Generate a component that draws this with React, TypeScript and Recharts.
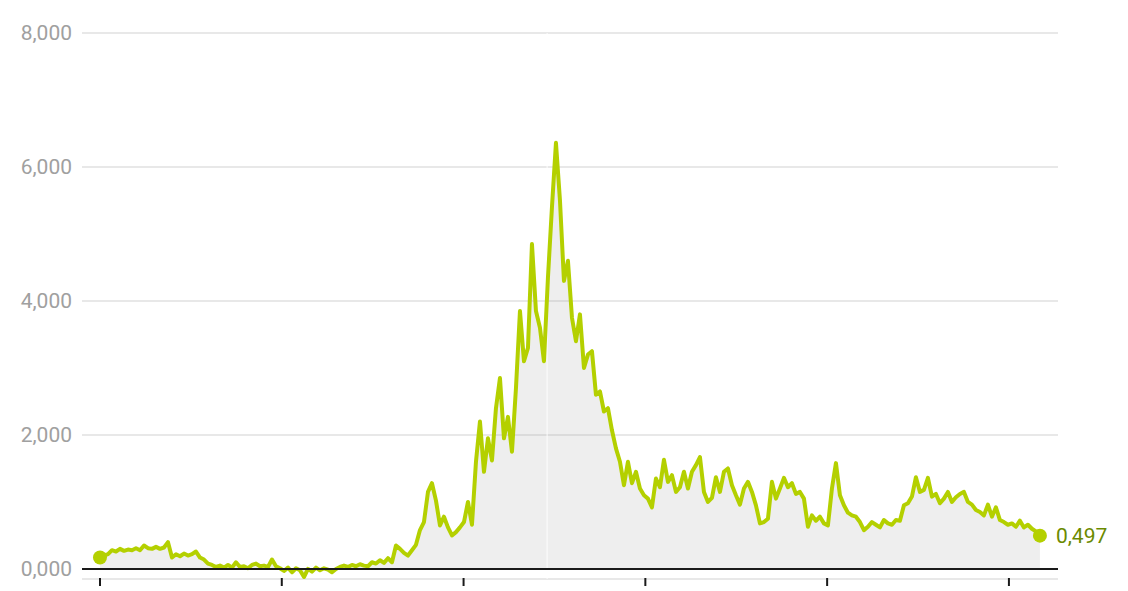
import React from 'react';
import {
    ComposedChart,
    Area,
    Line,
    XAxis,
    YAxis,
    CartesianGrid,
    ReferenceLine,
} from 'recharts';

// x positions: one reading every ~8 days, starting on the first tick
const START_YEAR = 2016;
const POINTS_PER_YEAR = 45.45;
const YEAR_TICKS = [2016, 2017, 2018, 2019, 2020, 2021];
const VALUE_TICKS = [0, 2, 4, 6, 8];
const SPLIT_YEAR = 2018.46;

const VALUES = [
    0.17, 0.2, 0.22, 0.28, 0.26, 0.3, 0.27, 0.29, 0.28, 0.31,
    0.28, 0.35, 0.31, 0.3, 0.33, 0.3, 0.32, 0.4, 0.17, 0.22,
    0.19, 0.23, 0.2, 0.22, 0.26, 0.17, 0.14, 0.08, 0.06, 0.03,
    0.05, 0.02, 0.06, 0.02, 0.1, 0.03, 0.04, 0.01, 0.06, 0.08,
    0.04, 0.05, 0.03, 0.14, 0.04, 0.01, -0.03, 0.02, -0.05, 0.01,
    -0.02, -0.12, 0.0, -0.04, 0.02, -0.02, 0.01, -0.01, -0.05, 0.0,
    0.03, 0.05, 0.03, 0.06, 0.04, 0.07, 0.05, 0.04, 0.1, 0.08,
    0.13, 0.09, 0.16, 0.1, 0.35, 0.3, 0.24, 0.2, 0.28, 0.36,
    0.58, 0.7, 1.15, 1.28, 1.02, 0.65, 0.78, 0.62, 0.5, 0.55,
    0.62, 0.7, 1.0, 0.66, 1.6, 2.2, 1.45, 1.95, 1.62, 2.4,
    2.85, 1.95, 2.27, 1.75, 2.7, 3.85, 3.1, 3.3, 4.85, 3.85,
    3.6, 3.1, 4.35, 5.4, 6.36, 5.5, 4.3, 4.6, 3.75, 3.4,
    3.8, 3.0, 3.2, 3.25, 2.6, 2.65, 2.35, 2.4, 2.07, 1.8,
    1.6, 1.25, 1.6, 1.28, 1.45, 1.2, 1.1, 1.05, 0.92, 1.35,
    1.22, 1.63, 1.3, 1.4, 1.15, 1.22, 1.45, 1.2, 1.45, 1.55,
    1.67, 1.15, 1.0, 1.06, 1.37, 1.15, 1.45, 1.5, 1.25, 1.1,
    0.96, 1.2, 1.3, 1.15, 0.95, 0.68, 0.7, 0.75, 1.3, 1.05,
    1.2, 1.36, 1.22, 1.28, 1.12, 1.15, 1.05, 0.63, 0.8, 0.72,
    0.78, 0.68, 0.65, 1.2, 1.58, 1.1, 0.95, 0.84, 0.8, 0.78,
    0.7, 0.58, 0.63, 0.7, 0.66, 0.62, 0.73, 0.68, 0.66, 0.73,
    0.72, 0.95, 0.98, 1.08, 1.37, 1.15, 1.18, 1.36, 1.08, 1.12,
    0.98, 1.05, 1.15, 1.0, 1.07, 1.12, 1.15, 1.0, 0.96, 0.88,
    0.85, 0.8, 0.96, 0.78, 0.92, 0.73, 0.7, 0.66, 0.68, 0.63,
    0.72, 0.62, 0.66, 0.6, 0.56, 0.497,
];

const data = VALUES.map((v, i) => ({ year: START_YEAR + i / POINTS_PER_YEAR, value: v }));

const LIME = '#b4d000';
const LABEL_GREEN = '#6b8a00';
const fmt = (v: number) => v.toFixed(3).replace('.', ',');

const YearTick = (props: any) => {
    const { x, y } = props;
    return <line x1={x} x2={x} y1={y - 1} y2={y + 7} stroke="#1a1a1a" strokeWidth={2} />;
};

const renderDot = (props: any) => {
    const { cx, cy, index } = props;
    if (index === 0) {
        return <circle key="dot-first" cx={cx} cy={cy} r={7} fill={LIME} />;
    }
    if (index === VALUES.length - 1) {
        return (
            <g key="dot-last">
                <circle cx={cx} cy={cy} r={7} fill={LIME} />
                <text
                    x={cx + 16}
                    y={cy}
                    dy="0.36em"
                    fill={LABEL_GREEN}
                    fontSize={21}
                    fontFamily="Roboto"
                >
                    {fmt(VALUES[index])}
                </text>
            </g>
        );
    }
    return <g key={`dot-${index}`} />;
};

export default function App() {
    return (
        <div style={{ position: 'absolute', left: 0, top: 0 }}>
            <ComposedChart
                width={1128}
                height={591}
                data={data}
                margin={{ top: 33, right: 70, bottom: 0, left: 0 }}
                style={{ fontFamily: 'Roboto' }}
            >
                <CartesianGrid vertical={false} stroke="#e8e8e8" strokeWidth={2} />
                <XAxis
                    type="number"
                    dataKey="year"
                    domain={[2015.901, 2021.27]}
                    ticks={YEAR_TICKS}
                    interval={0}
                    axisLine={false}
                    tickLine={false}
                    tickSize={0}
                    tickMargin={0}
                    height={12}
                    tick={YearTick}
                />
                <YAxis
                    type="number"
                    domain={[-0.15, 8]}
                    ticks={VALUE_TICKS}
                    interval={0}
                    width={82}
                    axisLine={false}
                    tickLine={false}
                    tickSize={0}
                    tickMargin={10}
                    tickFormatter={fmt}
                    tick={{ fill: '#a0a0a0', fontSize: 21, fontFamily: 'Roboto' }}
                />
                <Area
                    dataKey="value"
                    type="linear"
                    stroke="none"
                    fill="#9a9a9a"
                    fillOpacity={0.17}
                    baseValue={0}
                    dot={false}
                    activeDot={false}
                    isAnimationActive={false}
                />
                <ReferenceLine x={SPLIT_YEAR} stroke="#ffffff" strokeOpacity={0.6} strokeWidth={1.5} />
                <Line
                    dataKey="value"
                    type="linear"
                    stroke={LIME}
                    strokeWidth={4}
                    strokeLinejoin="round"
                    dot={renderDot}
                    activeDot={false}
                    isAnimationActive={false}
                />
                <ReferenceLine y={0} stroke="#1a1a1a" strokeWidth={2} />
            </ComposedChart>
        </div>
    );
}
